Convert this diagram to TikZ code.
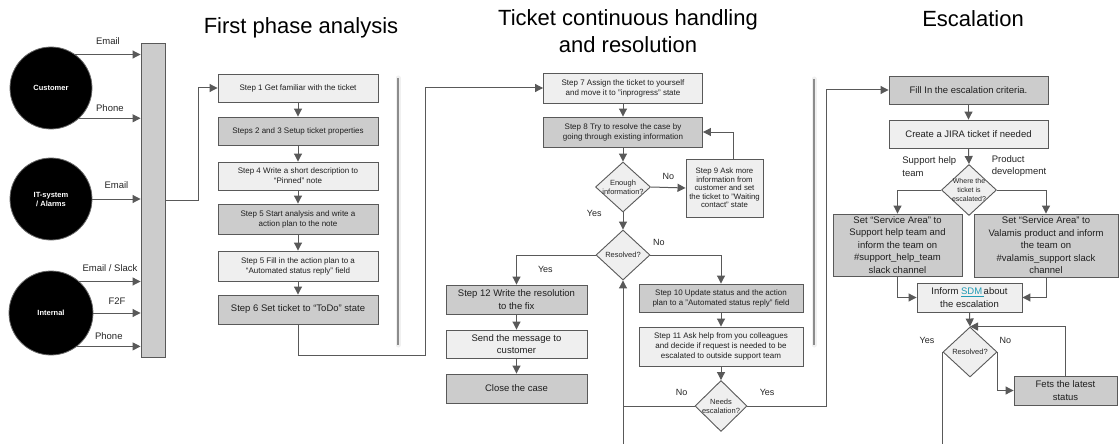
\documentclass[tikz,border=0pt]{standalone}
\usepackage{fontspec}
\setmainfont{Liberation Sans}
\usetikzlibrary{shapes.geometric,arrows.meta,calc,positioning}

\definecolor{boxlight}{HTML}{EFEFEF}
\definecolor{boxdark}{HTML}{CCCCCC}
\definecolor{edge}{HTML}{595959}
\definecolor{sdmlink}{HTML}{1F9BB5}

\begin{document}
\begin{tikzpicture}[x=1pt, y=-1pt,
  card/.style={draw=edge, line width=0.9pt, align=center, inner sep=0pt, text=black!88},
  light/.style={card, fill=boxlight},
  dark/.style={card, fill=boxdark},
  wh/.style 2 args={minimum width=#1pt, minimum height=#2pt},
  f8/.style={font=\fontsize{8}{10}\selectfont},
  f9/.style={font=\fontsize{9.5}{12.5}\selectfont},
  dia/.style={diamond, draw=edge, fill=boxlight, line width=0.9pt, inner sep=0pt},
  dtext/.style={font=\fontsize{7.5}{9}\selectfont, align=center, text=black!85, inner sep=0pt},
  flow/.style={draw=edge, line width=1pt, -{Triangle[length=8pt,width=8pt]}},
  wire/.style={draw=edge, line width=1pt},
  elabel/.style={font=\fontsize{9.5}{12.5}\selectfont, text=black!85, inner sep=1pt, align=left},
  yn/.style={font=\fontsize{9}{11}\selectfont, text=black!85, inner sep=1pt},
  src/.style={circle, fill=black, draw=black!60, line width=0.8pt, text=white, inner sep=0pt,
    align=center, font=\bfseries\fontsize{7.5}{9}\selectfont},
  head/.style={font=\fontsize{22}{27}\selectfont, align=center, text=black, inner sep=0pt},
  divider/.style={draw=black!45, line width=1.2pt},
  dividerglow/.style={draw=black!6, line width=5pt, line cap=round},
]

\useasboundingbox (0,0) rectangle (1120,444);
\clip (0,0) rectangle (1120,444);
\fill[white] (0,0) rectangle (1120,444);

% ---------- headings ----------
\node[head] (h1) at (301,28) {First phase analysis};
\node[head] (h2) at (628,31.5) {Ticket continuous handling\\and resolution};
\node[head] (h3) at (973,19) {Escalation};

% ---------- dividers between phases ----------
\draw[dividerglow] (398,78) -- (398,345);
\draw[divider] (398,78) -- (398,345);
\draw[dividerglow] (814,79) -- (814,345);
\draw[divider] (814,79) -- (814,345);

% ---------- ticket sources ----------
\node[src, minimum size=82pt] (cust) at (51,88) {Customer};
\node[src, minimum size=82pt] (its) at (51,199) {IT-system\\/ Alarms};
\node[src, minimum size=84pt] (intl) at (51,313) {Internal};
\node[dark, wh={24}{314}] (bar) at (153,200) {};

\draw[flow] (cust.54) -- (cust.54 -| bar.west) node[midway, above=8pt, elabel] {Email};
\draw[flow] (cust.-47) -- (cust.-47 -| bar.west) node[midway, above=5pt, elabel] {Phone};
\draw[flow] (its.east) -- (its.east -| bar.west) node[midway, above=9pt, elabel] {Email};
\draw[flow] (intl.48) -- (intl.48 -| bar.west) node[midway, above=8pt, elabel] {Email / Slack};
\draw[flow] (intl.east) -- (intl.east -| bar.west) node[midway, above=7pt, elabel] {F2F};
\draw[flow] (intl.-52) -- (intl.-52 -| bar.west) node[midway, above=5pt, elabel] {Phone};

% ---------- first phase analysis ----------
\node[light, f8, wh={160}{28}] (s1) at (298,88) {Step 1 Get familiar with the ticket};
\node[dark, f8, wh={160}{28}] (s23) at (298,131) {Steps 2 and 3 Setup ticket properties};
\node[light, f8, wh={160}{28}] (s4) at (298,176) {Step 4 Write a short description to\\“Pinned” note};
\node[dark, f8, wh={160}{30}] (s5a) at (298,219) {Step 5 Start analysis and write a\\action plan to the note};
\node[light, f8, wh={160}{30}] (s5b) at (298,266) {Step 5 Fill in the action plan to a\\“Automated status reply” field};
\node[dark, f9, wh={160}{29}] (s6) at (298,309.5) {Step 6 Set ticket to “ToDo” state};

\coordinate (j1) at (198,200);
\draw[flow] (bar.east) -- (j1) |- (s1.west);
\draw[flow] (s1.south) -- (s23.north);
\draw[flow] (s23.south) -- (s4.north);
\draw[flow] (s4.south) -- (s5a.north);
\draw[flow] (s5a.south) -- (s5b.north);
\draw[flow] (s5b.south) -- (s6.north);

% ---------- continuous handling and resolution ----------
\node[light, f8, wh={159}{30}] (s7) at (623,88) {Step 7 Assign the ticket to yourself\\and move it to "inprogress" state};
\node[dark, f8, wh={159}{30}] (s8) at (623,132) {Step 8 Try to resolve the case by\\going through existing information};
\node[dia, minimum width=55pt, minimum height=50pt,
  label={[dtext]center:{Enough\\information?}}] (d1) at (623,187) {};
\node[light, font=\fontsize{7.8}{8.6}\selectfont, wh={77}{58}] (s9) at (724.5,188)
  {Step 9 Ask more\\information from\\customer and set\\the ticket to "Waiting\\contact" state};
\node[dia, minimum width=54pt, minimum height=50pt,
  label={[dtext]center:{Resolved?}}] (d2) at (623,255) {};
\node[dark, f9, wh={141}{29}] (s12) at (516.5,299.5) {Step 12 Write the resolution\\to the fix};
\node[light, f9, wh={141}{28}] (sm) at (516.5,344) {Send the message to\\customer};
\node[dark, f9, wh={141}{29}] (cc) at (516.5,388.5) {Close the case};
\node[dark, f8, wh={164}{28}] (s10) at (721,298) {Step 10 Update status and the action\\plan to a "Automated status reply" field};
\node[light, f8, wh={164}{39}] (s11) at (721,346.5) {Step 11 Ask help from you colleagues\\and decide if request is needed to be\\escalated to outside support team};
\node[dia, minimum width=52pt, minimum height=51pt,
  label={[dtext]center:{Needs\\escalation?}}] (d3) at (721,406) {};

\coordinate (j2) at (425,355);
\draw[flow] (s6.south) |- (j2) |- (s7.west);
\draw[flow] (s7.south) -- (s8.north);
\draw[flow] (s8.south) -- (d1.north);
\draw[flow] (d1.east) -- (s9.west) node[midway, above=6pt, yn] {No};
\draw[flow] ($(s9.north)+(8.5,0)$) |- (s8.east);
\draw[flow] (d1.south) -- (d2.north) node[pos=0.05, left=20pt, yn] {Yes};
\draw[flow] (d2.west) -| (s12.north) node[pos=0.75, right=20pt, yn] {Yes};
\draw[flow] (d2.east) -| (s10.north) node[pos=0.06, above=8pt, yn] {No};
\draw[flow] (s12.south) -- (sm.north);
\draw[flow] (sm.south) -- (cc.north);
\draw[flow] (s10.south) -- (s11.north);
\draw[flow] (s11.south) -- (d3.north);
\draw[wire] (d3.west) -- (d3.west -| d2.south) node[pos=0.18, above=9pt, yn] {No};

% ---------- escalation ----------
\node[dark, f9, wh={159}{28}] (fe) at (968.5,90) {Fill In the escalation criteria.};
\node[light, f9, wh={159}{28}] (jira) at (968.5,134) {Create a JIRA ticket if needed};
\node[dia, minimum width=55pt, minimum height=51pt,
  label={[dtext, font=\fontsize{7}{9}\selectfont]center:{Where the\\ticket is\\escalated?}}] (d4) at (969,190) {};
\node[dark, f9, wh={129}{62}] (lb) at (897.5,245)
  {Set “Service Area” to\\Support help team and\\inform the team on\\\#support\_help\_team\\slack channel};
\node[dark, f9, wh={144}{63}] (rb) at (1046,245.5)
  {Set “Service Area” to\\Valamis product and inform\\the team on\\\#valamis\_support slack\\channel};
\node[light, f9, wh={105}{29}] (sdm) at (969.5,297.5)
  {Inform \textcolor{sdmlink}{\underline{SDM\,}}about\\the escalation};
\node[dia, minimum width=54pt, minimum height=50pt,
  label={[dtext]center:{Resolved?}}] (d5) at (970,352) {};
\node[dark, f9, wh={103}{29}] (fets) at (1065.5,390.5) {Fets the latest\\status};

\coordinate (esc) at (826,406);
\draw[flow] (d3.east) -- node[pos=0.25, above=9pt, yn] {Yes} (esc) |- (fe.west);
\draw[flow] (fe.south) -- (jira.north);
\draw[flow] (jira.south) -- (d4.north);
\draw[flow] (d4.west) -| (lb.north) node[pos=0.135, above=12pt, elabel] {Support help\\team};
\draw[flow] (d4.east) -| (rb.north) node[pos=0.225, above=12pt, elabel] {Product\\development};
\draw[flow] (lb.south) |- (sdm.west);
\draw[flow] (rb.south) |- (sdm.east);
\draw[flow] (sdm.south) -- (d5.north);
\draw[flow] (d5.east) |- (fets.west);
\draw[flow] (fets.north) |- (d5.north);
\node[yn, anchor=south west] (nolbl) at ($(d5.east)+(1,-7)$) {No};
\node[yn, anchor=south east] (yeslbl) at ($(d5.west)+(-7,-7)$) {Yes};

% resolved escalations return to the resolution check
\coordinate (lp) at (944,452);
\draw[flow] (d5.west) -- (d5.west |- lp) -| (d2.south);

\end{tikzpicture}
\end{document}
